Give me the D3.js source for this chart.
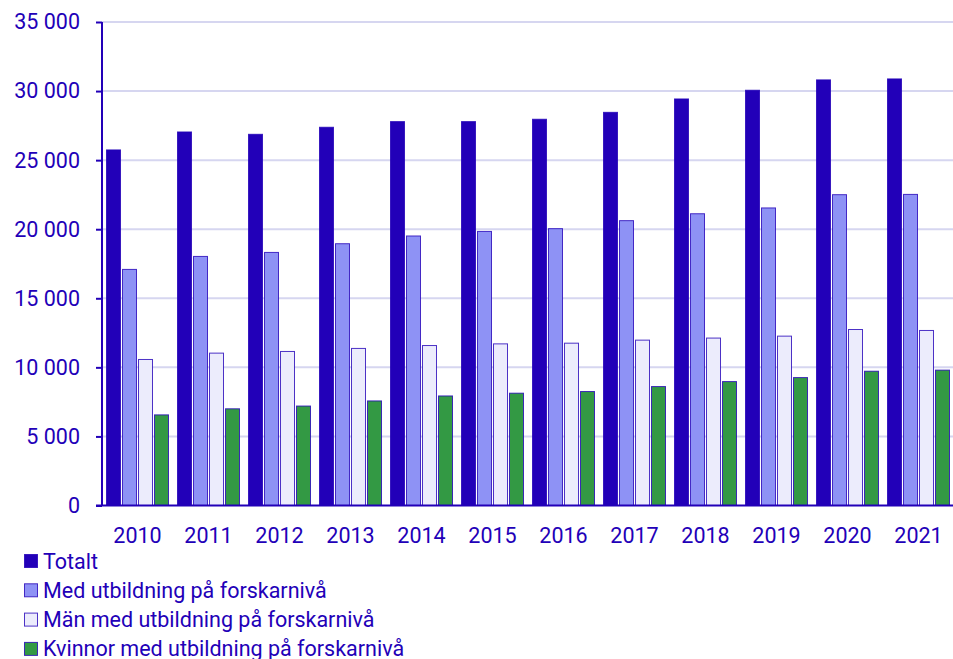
<!DOCTYPE html>
<html>
<head>
<meta charset="utf-8">
<script src="https://cdn.jsdelivr.net/npm/d3@7"></script>
<style>
  body { margin: 0; background: #fff; }
  svg { font-family: Roboto, sans-serif; }
</style>
</head>
<body>
<svg id="chart" width="953" height="659"></svg>
<script>
// data
var years = ["2010","2011","2012","2013","2014","2015","2016","2017","2018","2019","2020","2021"];
var totalt   = [25740, 27040, 26870, 27380, 27790, 27790, 27960, 28460, 29430, 30060, 30810, 30880];
var med      = [17090, 18030, 18320, 18950, 19510, 19840, 20040, 20620, 21120, 21540, 22500, 22520];
var man      = [10570, 11030, 11150, 11370, 11580, 11700, 11750, 11970, 12120, 12260, 12740, 12670];
var kvinnor  = [6560, 7000, 7200, 7570, 7930, 8130, 8250, 8610, 8970, 9260, 9720, 9800];
var seriesNames = ["Totalt", "Med utbildning på forskarnivå", "Män med utbildning på forskarnivå", "Kvinnor med utbildning på forskarnivå"];
var yTicks = [0, 5000, 10000, 15000, 20000, 25000, 30000, 35000];

var colors = ["#2200b8", "#8e92f5", "#ececfc", "#339944"];
var ink = "#2200b8";
var series = [totalt, med, man, kvinnor];

var svg = d3.select("#chart");
var mLeft = 102, mRight = 954, mTop = 22, mBottom = 505.5;
var fs = "21.5px";

var x = d3.scaleBand().domain(years).range([mLeft, mRight]).paddingInner(0).paddingOuter(0);
var x1 = d3.scaleBand().domain(d3.range(4)).range([4.5, x.bandwidth() - 4.5]).paddingInner(0.125);
var y = d3.scaleLinear().domain([0, 35000]).range([mBottom, mTop]);

var fmt = function(v) { return d3.format(",")(v).replace(/,/g, " "); };

// gridlines
svg.append("g").selectAll("line").data(yTicks.filter(function(d){ return d > 0; }))
  .join("line")
  .attr("x1", mLeft).attr("x2", mRight)
  .attr("y1", function(d){ return y(d); }).attr("y2", function(d){ return y(d); })
  .attr("stroke", "#d6d6f0").attr("stroke-width", 2);

// bars
var groups = svg.append("g").selectAll("g").data(years).join("g")
  .attr("transform", function(d){ return "translate(" + x(d) + ",0)"; });

groups.selectAll("rect")
  .data(function(d, i){ return series.map(function(s, k){ return {k: k, v: s[i]}; }); })
  .join("rect")
  .attr("x", function(d){ return x1(d.k); })
  .attr("width", x1.bandwidth())
  .attr("y", function(d){ return y(d.v); })
  .attr("height", function(d){ return y(0) - y(d.v); })
  .attr("fill", function(d){ return colors[d.k]; })
  .attr("stroke", ink).attr("stroke-opacity", 0.8).attr("stroke-width", 1);

// y axis
var yAxis = svg.append("g").attr("transform", "translate(" + mLeft + ",0)")
  .call(d3.axisLeft(y).tickValues(yTicks).tickFormat(fmt).tickSize(6).tickPadding(16));
yAxis.select(".domain").attr("stroke", ink).attr("stroke-width", 2).attr("d", "M0," + mTop + "V" + mBottom);
yAxis.selectAll(".tick line").attr("stroke", ink).attr("stroke-width", 2);
yAxis.selectAll("text").attr("fill", ink).style("font-size", fs).style("font-family", "Roboto");

// x axis
var xAxis = svg.append("g").attr("transform", "translate(0," + mBottom + ")")
  .call(d3.axisBottom(x).tickSize(0).tickPadding(22));
xAxis.select(".domain").attr("stroke", ink).attr("stroke-width", 2).attr("d", "M" + (mLeft - 6) + ",0H" + mRight);
xAxis.selectAll("text").attr("fill", ink).style("font-size", fs).style("font-family", "Roboto");

// legend
var legend = svg.append("g").selectAll("g").data(seriesNames).join("g")
  .attr("transform", function(d, i){ return "translate(24," + (561 + i * 29.3) + ")"; });
legend.append("rect")
  .attr("x", 0.5).attr("y", -6.5).attr("width", 13).attr("height", 13)
  .attr("fill", function(d, i){ return colors[i]; })
  .attr("stroke", ink).attr("stroke-opacity", 0.8);
legend.append("text")
  .attr("x", 19).attr("dy", "0.35em")
  .attr("fill", ink).style("font-size", fs)
  .text(function(d){ return d; });
</script>
</body>
</html>
